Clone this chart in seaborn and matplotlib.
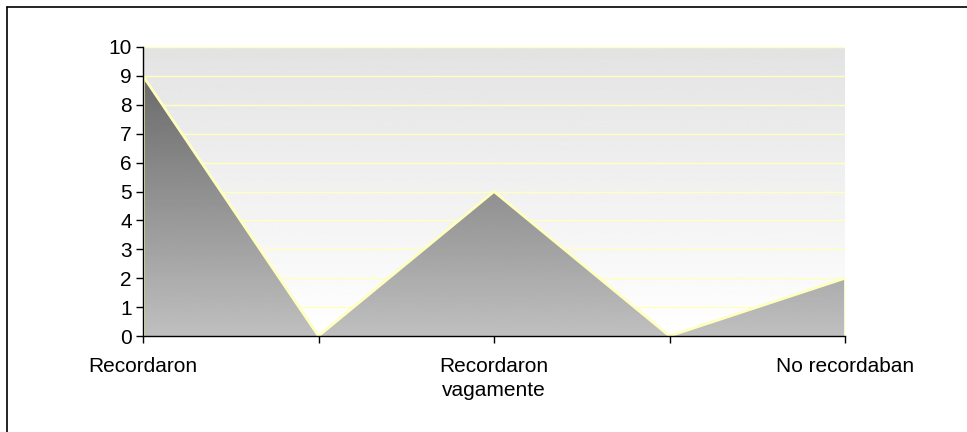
import numpy as np
import pandas as pd
import matplotlib
matplotlib.use("Agg")
import matplotlib.pyplot as plt
from matplotlib.lines import Line2D
import seaborn as sns

# Chart data
categories = ["Recordaron", "", "Recordaron\nvagamente", "", "No recordaban"]
values = [9, 0, 5, 0, 2]
y_ticks = list(range(0, 11))

sns.set_theme(style="ticks")
plt.rcParams["font.family"] = ["Liberation Sans", "DejaVu Sans"]

W, H = 967, 432
fig = plt.figure(figsize=(W / 100, H / 100), dpi=100)
fig.patch.set_facecolor("white")
ax = fig.add_axes([143 / W, 96 / H, 702 / W, 289 / H])
ax.set_facecolor("none")

df = pd.DataFrame({"pos": np.arange(len(values)), "valor": values})
x0, x1 = 0, len(values) - 1
ymax = y_ticks[-1]
ax.set_xlim(x0, x1)
ax.set_ylim(0, ymax)

# Plot-area background: light gray at top fading to white at the bottom
bg = np.linspace(1.0, 0xE3 / 255, 256).reshape(-1, 1)
ax.imshow(bg, cmap="gray", vmin=0, vmax=1, aspect="auto", origin="lower",
          extent=(x0, x1, 0, ymax), zorder=0.2, interpolation="bilinear")

# Grid lines
ax.set_yticks(y_ticks)
ax.yaxis.grid(True, color="#ffffc0", lw=1)
ax.set_axisbelow(True)

# Area shape, used as clip path for the gradient fill
poly = ax.fill_between(df["pos"], df["valor"], 0, facecolor="none",
                       edgecolor="none")
top = max(values)
fill = np.linspace(0xBF / 255, 0x6A / 255, 256).reshape(-1, 1)
im = ax.imshow(fill, cmap="gray", vmin=0, vmax=1, aspect="auto",
               origin="lower", extent=(x0, x1, 0, top), zorder=1,
               interpolation="bilinear")
im.set_clip_path(poly.get_paths()[0], transform=ax.transData)

# Area outline
sns.lineplot(data=df, x="pos", y="valor", color="#ffffc0", lw=2, ax=ax,
             zorder=3)
ax.vlines([x0, x1], 0, [values[0], values[-1]], color="#ffffc0", lw=2,
          zorder=3)

ax.set_xticks(df["pos"])
ax.set_xticklabels(categories, linespacing=1.35)
ax.set_xlabel("")
ax.set_ylabel("")
ax.tick_params(axis="both", direction="out", length=5, width=1,
               color="black", labelsize=15, labelcolor="black")
ax.tick_params(axis="x", pad=10)
ax.tick_params(axis="y", pad=3)

for s in ["top", "right"]:
    ax.spines[s].set_visible(False)
for s in ["left", "bottom"]:
    ax.spines[s].set_color("black")
    ax.spines[s].set_linewidth(1)
    ax.spines[s].set_zorder(4)

# Outer frame of the chart
fig.add_artist(Line2D([7 / W, 1.0], [1 - 7 / H, 1 - 7 / H],
                      transform=fig.transFigure, color="black", lw=1.2))
fig.add_artist(Line2D([7 / W, 7 / W], [0.0, 1 - 7 / H],
                      transform=fig.transFigure, color="black", lw=1.2))

fig.savefig("out.png", dpi=100)
